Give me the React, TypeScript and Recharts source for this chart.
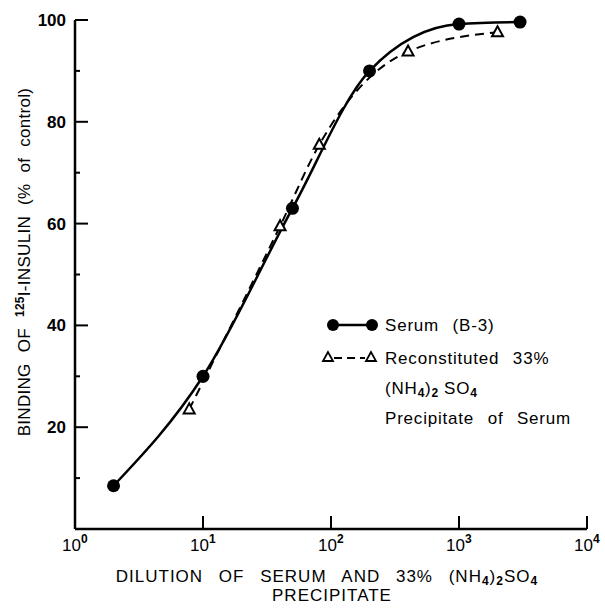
import { LineChart, Line, XAxis, YAxis, Legend, Label } from "recharts";

// Serum (B-3): filled circles, solid line
const serumDilution = [2, 10, 50, 200, 1000, 3000];
const serumBinding = [8.5, 30, 63, 90, 99.2, 99.6];

// Reconstituted 33% (NH4)2SO4 precipitate: open triangles, dashed line
const precipDilution = [7.8, 40, 81, 400, 2000];
const precipBinding = [23.5, 59.5, 75.5, 93.8, 97.6];

const xTicks = [1, 10, 100, 1000, 10000];
const xTickPowers = ["0", "1", "2", "3", "4"];
const yTicks = [0, 10, 20, 30, 40, 50, 60, 70, 80, 90, 100];

const serumData = serumDilution.map((x, i) => ({ x, y: serumBinding[i] }));
const precipData = precipDilution.map((x, i) => ({ x, y: precipBinding[i] }));

const FONT = "'Liberation Sans', Arial, Helvetica, sans-serif";

function XTick(props: any) {
  const { x, y, payload } = props;
  const idx = xTicks.indexOf(payload.value);
  return (
    <g>
      {payload.value > 1 && <line x1={x} y1={y} x2={x} y2={y - 13} stroke="#000" strokeWidth={2} />}
      <text x={x - 13} y={y + 22} fontFamily={FONT} fontSize={17} fill="#000">
        10
        <tspan dy={-8} fontSize={12} fontWeight="bold">
          {xTickPowers[idx]}
        </tspan>
      </text>
    </g>
  );
}

function YTick(props: any) {
  const { x, y, payload } = props;
  const v = payload.value;
  if (v === 0) return null;
  const major = v % 20 === 0;
  return (
    <g>
      <line x1={x} y1={y} x2={x + (major ? 13 : 5)} y2={y} stroke="#000" strokeWidth={2} />
      {major && (
        <text x={x - 9} y={y + 6} textAnchor="end" fontFamily={FONT} fontSize={17} fontWeight="bold" fill="#000">
          {v}
        </text>
      )}
    </g>
  );
}

function CircleDot(props: any) {
  const { cx, cy } = props;
  return <circle cx={cx} cy={cy} r={6.5} fill="#000" />;
}

function TriangleDot(props: any) {
  const { cx, cy } = props;
  return (
    <polygon
      points={`${cx},${cy - 6} ${cx - 5.5},${cy + 4} ${cx + 5.5},${cy + 4}`}
      fill="#fff"
      stroke="#000"
      strokeWidth={2}
    />
  );
}

function YTitle() {
  return (
    <text
      transform="translate(30, 262) rotate(-90)"
      textAnchor="middle"
      fontFamily={FONT}
      fontSize={17}
      fill="#000"
      style={{ wordSpacing: "6px", letterSpacing: "0.3px" }}
    >
      BINDING OF{" "}
      <tspan dy={-6} fontSize={12} fontWeight="bold">
        125
      </tspan>
      <tspan dy={6}>I-INSULIN (% of control)</tspan>
    </text>
  );
}

function XTitle() {
  return (
    <g fontFamily={FONT} fontSize={17} fill="#000" style={{ wordSpacing: "10px", letterSpacing: "1px" }}>
      <text x={327} y={582} textAnchor="middle">
        DILUTION OF SERUM AND 33% (NH
        <tspan dy={3} fontSize={12} fontWeight="bold">4</tspan>
        <tspan dy={-3}>)</tspan>
        <tspan dy={3} fontSize={12} fontWeight="bold">2</tspan>
        <tspan dy={-3}>SO</tspan>
        <tspan dy={3} fontSize={12} fontWeight="bold">4</tspan>
      </text>
      <text x={332} y={601} textAnchor="middle">
        PRECIPITATE
      </text>
    </g>
  );
}

function LegendBox() {
  return (
    <svg width={285} height={125} style={{ display: "block" }}>
      <g fontFamily={FONT} fontSize={17} fill="#000" style={{ wordSpacing: "8px", letterSpacing: "0.8px" }}>
        <line x1={13} y1={15} x2={52} y2={15} stroke="#000" strokeWidth={2.5} />
        <circle cx={13} cy={15} r={6} fill="#000" />
        <circle cx={52} cy={15} r={6} fill="#000" />
        <text x={65} y={21}>Serum (B-3)</text>

        <line x1={14} y1={48} x2={45} y2={48} stroke="#000" strokeWidth={2} strokeDasharray="8 5" />
        <polygon points="8,42 3,51 13,51" fill="#fff" stroke="#000" strokeWidth={1.8} />
        <polygon points="51,42 46,51 56,51" fill="#fff" stroke="#000" strokeWidth={1.8} />
        <text x={65} y={54}>Reconstituted 33%</text>

        <text x={65} y={84}>
          (NH
          <tspan dy={3} fontSize={12} fontWeight="bold">4</tspan>
          <tspan dy={-3}>)</tspan>
          <tspan dy={3} fontSize={12} fontWeight="bold">2</tspan>
          <tspan dy={-3} dx={5}>SO</tspan>
          <tspan dy={3} fontSize={12} fontWeight="bold">4</tspan>
        </text>
        <text x={65} y={114}>Precipitate of Serum</text>
      </g>
    </svg>
  );
}

export default function App() {
  return (
    <div style={{ position: "absolute", left: 0, top: 0, background: "#fff" }}>
      <LineChart width={605} height={608} margin={{ top: 20, right: 18, bottom: 0, left: 0 }}>
        <XAxis
          dataKey="x"
          type="number"
          scale="log"
          domain={[1, 10000]}
          ticks={xTicks}
          interval={0}
          allowDataOverflow
          height={79}
          axisLine={{ stroke: "#000", strokeWidth: 2.5 }}
          tickLine={false}
          tickSize={0}
          tickMargin={0}
          tick={XTick}
        >
          <Label content={XTitle} />
        </XAxis>
        <YAxis
          type="number"
          domain={[0, 100]}
          ticks={yTicks}
          interval={0}
          width={75}
          axisLine={{ stroke: "#000", strokeWidth: 2.5 }}
          tickLine={false}
          tickSize={0}
          tickMargin={0}
          tick={YTick}
        >
          <Label content={YTitle} />
        </YAxis>
        <Legend
          layout="horizontal"
          verticalAlign="middle"
          align="center"
          wrapperStyle={{ left: 320, top: 310, width: 285 }}
          content={LegendBox}
        />
        <Line
          data={precipData}
          dataKey="y"
          name="Reconstituted 33% (NH4)2SO4 Precipitate of Serum"
          type="monotone"
          stroke="#000"
          strokeWidth={2}
          strokeDasharray="9 6"
          dot={TriangleDot}
          activeDot={false}
          isAnimationActive={false}
        />
        <Line
          data={serumData}
          dataKey="y"
          name="Serum (B-3)"
          type="monotone"
          stroke="#000"
          strokeWidth={2.5}
          dot={CircleDot}
          activeDot={false}
          isAnimationActive={false}
        />
      </LineChart>
    </div>
  );
}
